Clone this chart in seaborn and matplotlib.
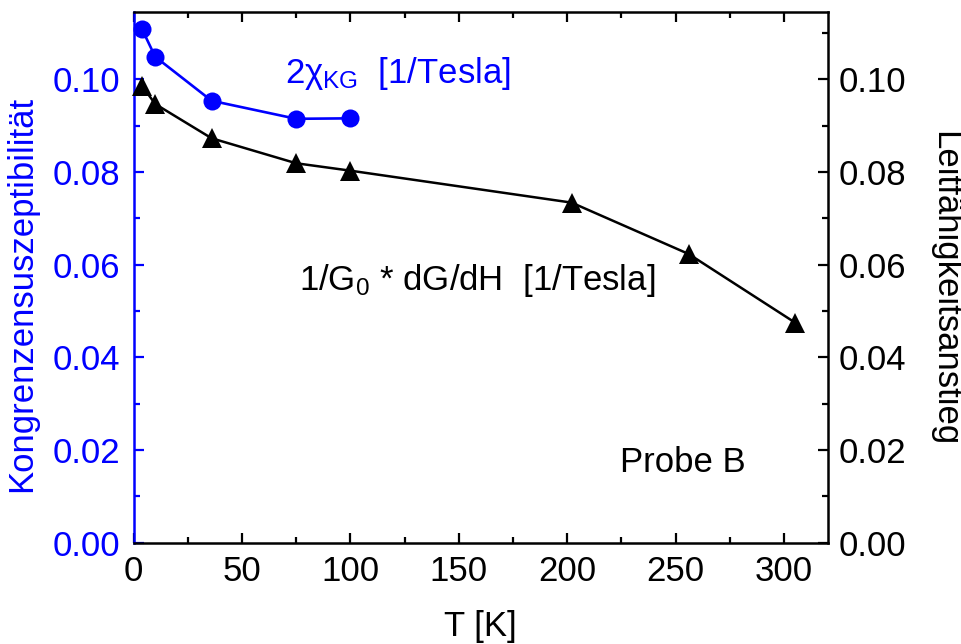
import matplotlib
matplotlib.use("Agg")
import matplotlib.pyplot as plt
from matplotlib.ticker import MultipleLocator, FormatStrFormatter
import seaborn as sns
import pandas as pd

# ---- data ----
T_chi = [4, 10, 36, 75, 100]
chi_kg2 = [0.1108, 0.1049, 0.0954, 0.0915, 0.0916]
T_cond = [4, 10, 36, 75, 100, 202, 256, 305]
cond_rise = [0.0986, 0.0947, 0.0873, 0.0819, 0.0803, 0.0734, 0.0623, 0.0475]

x_label = "T [K]"
left_label = "Kongrenzensuszeptibilität"
right_label = "Leitfähigkeitsanstieg"
chi_text = r"2$\chi_{\mathrm{KG}}$  [1/Tesla]"
cond_text = r"1/G$_{\mathrm{0}}$ * dG/dH  [1/Tesla]"
probe_text = "Probe B"

BLUE = "#0000ff"
FS = 25

sns.set_theme(style="ticks")
plt.rcParams.update({
    "font.family": ["Liberation Sans", "DejaVu Sans"],
    "mathtext.fontset": "custom",
    "mathtext.rm": "Liberation Sans",
    "mathtext.it": "Liberation Sans",
    "mathtext.bf": "Liberation Sans:bold",
    "axes.linewidth": 1.8,
    "axes.edgecolor": "black",
    "xtick.direction": "in",
    "ytick.direction": "in",
})

df_chi = pd.DataFrame({"T": T_chi, "v": chi_kg2})
df_cond = pd.DataFrame({"T": T_cond, "v": cond_rise})

fig = plt.figure(figsize=(9.61, 6.44), dpi=100)
ax = fig.add_axes([133.5 / 961, 1 - 542.5 / 644, 694 / 961, 530.2 / 644])
ax2 = ax.twinx()

sns.lineplot(data=df_chi, x="T", y="v", ax=ax, color=BLUE, lw=1.9,
             marker="o", markersize=13, markeredgewidth=0, clip_on=False)
sns.lineplot(data=df_cond, x="T", y="v", ax=ax2, color="black", lw=1.8,
             marker="^", markersize=14, markeredgewidth=0, clip_on=False)

for a in (ax, ax2):
    a.set_xlim(0, 320)
    a.set_ylim(0, 0.1145)
    a.yaxis.set_major_locator(MultipleLocator(0.02))
    a.yaxis.set_minor_locator(MultipleLocator(0.01))
    a.yaxis.set_major_formatter(FormatStrFormatter("%.2f"))

ax.xaxis.set_major_locator(MultipleLocator(50))
ax.xaxis.set_minor_locator(MultipleLocator(25))

# spines
ax.spines["left"].set_color(BLUE)
ax.spines["right"].set_visible(False)
for s in ("left", "top", "bottom"):
    ax2.spines[s].set_visible(False)
ax2.spines["right"].set_color("black")
ax2.spines["right"].set_linewidth(1.8)

# ticks
ax.tick_params(axis="x", which="both", top=True, bottom=True, colors="black",
               labelsize=FS, width=1.6, pad=9)
ax.tick_params(axis="x", which="major", length=7.5)
ax.tick_params(axis="x", which="minor", length=4)
ax.tick_params(axis="y", which="both", left=True, right=False, colors=BLUE,
               labelsize=FS, width=1.6, pad=9.5)
ax.tick_params(axis="y", which="major", length=7.5)
ax.tick_params(axis="y", which="minor", length=4)
ax2.tick_params(axis="y", which="both", left=False, right=True, colors="black",
                labelsize=FS, width=1.6, pad=8)
ax2.tick_params(axis="y", which="major", length=7.5)
ax2.tick_params(axis="y", which="minor", length=4)

# labels
ax.set_xlabel(x_label, fontsize=FS, color="black")
ax.xaxis.set_label_coords(0.5, -0.127)
ax.set_ylabel(left_label, fontsize=FS, color=BLUE)
ax.yaxis.set_label_coords(-0.1376, 0.469)
ax2.set_ylabel(right_label, fontsize=FS, color="black", rotation=270,
               va="bottom", rotation_mode="anchor")
ax2.yaxis.set_label_coords(1.145, 0.478)

# in-plot texts
ax.text(0.2183, 0.8667, chi_text, transform=ax.transAxes, fontsize=FS,
        color=BLUE, ha="left", va="baseline")
ax.text(0.2385, 0.4762, cond_text, transform=ax.transAxes, fontsize=FS,
        color="black", ha="left", va="baseline")
ax.text(0.701, 0.1335, probe_text, transform=ax.transAxes, fontsize=FS,
        color="black", ha="left", va="baseline")

fig.savefig("out.png", dpi=100)
